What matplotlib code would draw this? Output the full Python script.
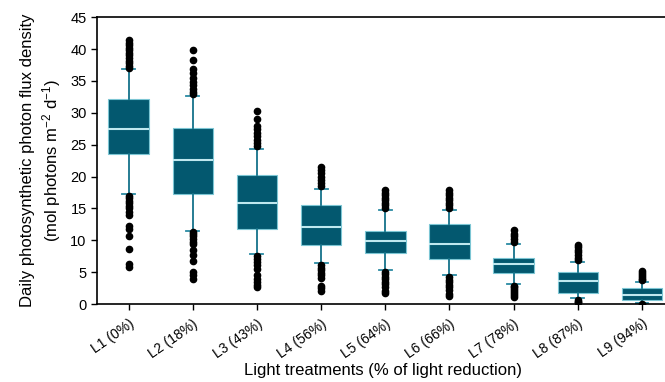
import matplotlib
matplotlib.use("Agg")
from matplotlib import pyplot as plt
import numpy as np

plt.rcParams["font.family"] = ["Liberation Sans", "DejaVu Sans"]
plt.rcParams["mathtext.default"] = "regular"

labels = ["L1 (0%)", "L2 (18%)", "L3 (43%)", "L4 (56%)", "L5 (64%)",
          "L6 (66%)", "L7 (78%)", "L8 (87%)", "L9 (94%)"]

# quartiles, medians and whisker ends per treatment
q1 = [23.5, 17.3, 11.8, 9.25, 7.95, 7.0, 4.9, 1.7, 0.6]
med = [27.4, 22.6, 15.9, 12.1, 9.9, 9.5, 6.3, 3.65, 1.5]
q3 = [32.1, 27.6, 20.3, 15.5, 11.4, 12.5, 7.3, 5.0, 2.45]
wlo = [17.3, 11.5, 7.8, 6.4, 5.4, 4.5, 3.2, 0.9, 0.15]
whi = [36.8, 32.6, 24.3, 18.1, 14.8, 14.8, 9.35, 6.6, 3.45]

# outlying daily values
fliers = [
    [41.4, 41.0, 40.6, 40.2, 39.8, 39.4, 39.0, 38.6, 38.2, 37.8, 37.4, 37.0,
     17.0, 16.6, 16.2, 15.8, 15.4, 15.0, 14.5, 14.0, 12.3, 11.8, 10.7, 8.6, 6.3, 5.8],
    [39.8, 38.3, 36.9, 36.2, 35.4, 34.9, 34.3, 33.8, 33.3, 32.9,
     11.3, 11.0, 10.6, 10.2, 9.8, 9.4, 8.5, 7.7, 6.8, 5.1, 4.5, 4.0],
    [30.3, 29.0, 28.0, 27.5, 26.9, 26.3, 25.8, 25.3, 24.8,
     7.5, 7.1, 6.6, 6.1, 5.5, 4.5, 4.0, 3.5, 3.0, 2.7],
    [21.5, 21.0, 20.5, 20.0, 19.5, 19.0, 18.5,
     6.1, 5.7, 5.3, 4.9, 4.5, 4.1, 2.9, 2.5, 2.1],
    [17.9, 17.5, 17.1, 16.7, 16.3, 15.9, 15.5, 15.1,
     5.1, 4.7, 4.3, 3.9, 3.5, 3.1, 2.7, 2.1, 1.7],
    [17.9, 17.5, 17.1, 16.7, 16.3, 15.9, 15.5, 15.1,
     4.2, 3.8, 3.4, 3.0, 2.6, 2.2, 1.6, 1.25],
    [11.6, 11.0, 10.6, 10.2, 9.8,
     2.9, 2.6, 2.3, 2.0, 1.7, 1.4, 1.05],
    [9.3, 8.9, 8.5, 8.1, 7.7, 7.3, 6.9, 0.6, 0.4, 0.3],
    [5.2, 4.9, 4.6, 4.3, 4.0, 3.7, 0.05],
]

stats = []
for i in range(len(labels)):
    stats.append(dict(label=labels[i], q1=q1[i], med=med[i], q3=q3[i],
                      whislo=wlo[i], whishi=whi[i], fliers=fliers[i]))

fig = plt.figure(figsize=(6.65, 3.82), dpi=100)
ax = fig.add_axes([0.146, 0.204, 0.86, 0.751])

ax.bxp(stats, positions=np.arange(1, 10), widths=0.63, patch_artist=True,
       boxprops=dict(facecolor="#03586f", edgecolor="#7cc6d4", linewidth=0.8),
       medianprops=dict(color="#bfe8ef", linewidth=1.5),
       whiskerprops=dict(color="#15728a", linewidth=1.3),
       capprops=dict(color="#2a8aa2", linewidth=1.3),
       capwidths=0.2,
       flierprops=dict(marker="o", markerfacecolor="black", markeredgecolor="black",
                       markersize=4.5))

ax.set_xlim(0.51, 9.42)
ax.set_ylim(0, 45)
ax.set_yticks(range(0, 46, 5))
ax.set_xticklabels(labels, rotation=35, ha="right", rotation_mode="anchor")
ax.tick_params(labelsize=10.5, direction="out", length=4, width=1)
ax.tick_params(axis="x", labelsize=10, pad=5)
ax.spines["right"].set_visible(False)
for s in ["left", "bottom", "top"]:
    ax.spines[s].set_linewidth(1.2)

ax.set_ylabel("Daily photosynthetic photon flux density\n(mol photons m$^{-2}$ d$^{-1}$)",
              fontsize=12, linespacing=1.3, labelpad=5)
ax.set_xlabel("Light treatments (% of light reduction)", fontsize=12, labelpad=2)

fig.savefig("out.png", dpi=100)
